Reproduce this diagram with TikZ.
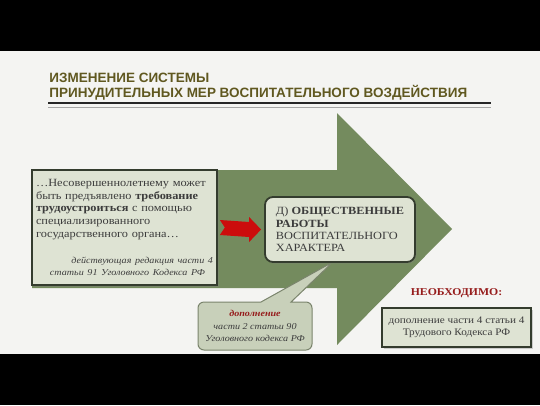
\documentclass[tikz,border=0pt]{standalone}
\usepackage[dvipsnames]{xcolor}
\usepackage{fontspec}
\setmainfont{Liberation Serif}[FakeStretch=1.12]
\newfontfamily\headfont{Liberation Sans}
\usetikzlibrary{positioning,calc,shadows,shapes.callouts}

\definecolor{slidebg}{RGB}{244,244,242}
\definecolor{arrowgreen}{RGB}{116,139,94}
\definecolor{boxfill}{RGB}{222,227,211}
\definecolor{boxline}{RGB}{52,60,46}
\definecolor{notefill}{RGB}{200,208,186}
\definecolor{noteline}{RGB}{122,132,108}
\definecolor{textgray}{RGB}{60,60,60}
\definecolor{headolive}{RGB}{96,88,32}
\definecolor{arrowred}{RGB}{204,12,12}
\definecolor{darkred}{RGB}{150,28,28}

\begin{document}
\begin{tikzpicture}[x=1pt,y=-1pt,thick,
    box node/.style={rectangle,draw=boxline,line width=1.8pt,fill=boxfill,text=textgray,
        drop shadow={shadow xshift=1.5pt,shadow yshift=-1.5pt,opacity=0.35}},
    note node/.style={rectangle callout,rounded corners=6pt,draw=noteline,line width=1pt,
        fill=notefill,text=textgray,align=center,font=\fontsize{9}{12.5}\selectfont\itshape},
    head node/.style={inner sep=0pt,align=left,text=headolive,font=\headfont\bfseries\fontsize{13.5}{15}\selectfont}]

    \useasboundingbox (0,0) rectangle (540,405);
    \fill[slidebg] (0,51) rectangle (540,354);

    % title and rule
    \node[head node,anchor=north west] (t) at (49,73) {ИЗМЕНЕНИЕ СИСТЕМЫ\\ПРИНУДИТЕЛЬНЫХ МЕР ВОСПИТАТЕЛЬНОГО ВОЗДЕЙСТВИЯ};
    \draw[line width=2pt,black!85] (48,103) -- (491,103);
    \draw[line width=1pt,black!35] (48,107) -- (491,107);

    % big arrow
    \fill[arrowgreen] (32,170) -- (337,170) -- (337,113) -- (452,229) -- (337,345) -- (337,288) -- (32,288) -- cycle;

    \node[box node,text width=177pt,inner xsep=4pt,minimum height=115pt,align=left,
        font=\fontsize{11}{12.7}\selectfont] (1) at (124.5,227.5)
        {…Несовершеннолетнему может\\быть предъявлено \textbf{требование}\\\textbf{трудоустроиться} с помощью\\специализированного\\государственного органа…\\[13.3pt]
        \hspace*{0pt plus 1filll}{\fontsize{9}{12.7}\selectfont\itshape действующая редакция части 4}\hspace*{8pt}\\
        \hspace*{0pt plus 1filll}{\fontsize{9}{12.7}\selectfont\itshape статьи 91 Уголовного Кодекса РФ}\hspace*{8pt}};

    \node[box node,rounded corners=8pt,minimum width=150pt,minimum height=65pt,align=left,
        font=\fontsize{11}{12.3}\selectfont] (2) at (340,229.5)
        {Д) \textbf{ОБЩЕСТВЕННЫЕ}\\\textbf{РАБОТЫ}\\ВОСПИТАТЕЛЬНОГО\\ХАРАКТЕРА};

    % red arrow
    \fill[arrowred] ($(1.east)+(2,-7.5)$) -- ($(2.west)+(-15,-7.5)$) -- ($(2.west)+(-15,-12.5)$)
        -- ($(2.west)+(-3,0)$) -- ($(2.west)+(-15,12.5)$) -- ($(2.west)+(-15,7.5)$)
        -- ($(1.east)+(2,7.5)$) -- ($(1.east)+(7,0)$) -- cycle;

    \node[note node,minimum width=114pt,minimum height=48pt,
        callout absolute pointer={($(2.south)+(-7,-1)$)},callout pointer width=30pt] (3) at (255,326)
        {\textcolor{darkred}{\bfseries дополнение}\\части 2 статьи 90\\Уголовного кодекса РФ};

    \node[box node,minimum width=149pt,minimum height=39pt,align=center,
        font=\fontsize{10}{11.5}\selectfont] (4) at (456.5,327.5)
        {дополнение части 4 статьи 4\\Трудового Кодекса РФ};
    \node[text=darkred,font=\fontsize{10.5}{12}\selectfont\bfseries,inner sep=0pt] (5) [above=9pt of 4] {НЕОБХОДИМО:};

    % black bars
    \fill[black] (0,0) rectangle (540,51);
    \fill[black] (0,354) rectangle (540,405);
\end{tikzpicture}
\end{document}
